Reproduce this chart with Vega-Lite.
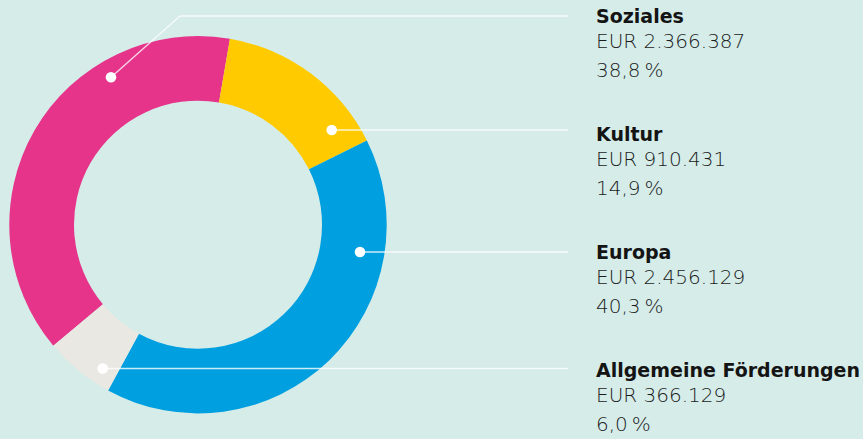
{
  "$schema": "https://vega.github.io/schema/vega-lite/v6.json",
  "width": 863,
  "height": 439,
  "autosize": {"type": "fit", "contains": "padding"},
  "padding": 0,
  "background": "#d5ece9",
  "config": {"view": {"stroke": null}},
  "datasets": {
    "budget": [
      {"name": "Soziales", "eur": 2366387, "eurLabel": "EUR 2.366.387", "pctLabel": "38,8\u2009%"},
      {"name": "Kultur", "eur": 910431, "eurLabel": "EUR 910.431", "pctLabel": "14,9\u2009%"},
      {"name": "Europa", "eur": 2456129, "eurLabel": "EUR 2.456.129", "pctLabel": "40,3\u2009%"},
      {"name": "Allgemeine Förderungen", "eur": 366129, "eurLabel": "EUR 366.129", "pctLabel": "6,0\u2009%"}
    ]
  },
  "layer": [
    {
      "layer": [
        {
          "data": {"name": "budget"},
          "mark": {"type": "arc", "radius": 188.7, "radius2": 124},
          "encoding": {
            "theta": {"field": "eur", "type": "quantitative", "stack": true, "scale": {"range": [-2.2677, 4.01549]}},
            "order": {"field": "name", "type": "nominal", "sort": "descending"},
            "color": {
              "field": "name",
              "type": "nominal",
              "scale": {
                "domain": ["Soziales", "Kultur", "Europa", "Allgemeine Förderungen"],
                "range": ["#e5348a", "#ffcb00", "#009fdf", "#e9e8e3"]
              },
              "legend": null
            },
            "x": {"datum": 198, "type": "quantitative", "scale": {"domain": [0, 863], "nice": false, "zero": false}, "axis": null},
            "y": {"datum": 224.7, "type": "quantitative", "scale": {"domain": [0, 439], "reverse": true, "nice": false, "zero": false}, "axis": null}
          }
        },
        {
          "data": {"values": [{}]},
          "mark": {"type": "rule", "color": "#ffffff", "strokeWidth": 1.3, "opacity": 0.8},
          "encoding": {
            "x": {"datum": 111, "type": "quantitative"}, "x2": {"datum": 180},
            "y": {"datum": 77.3, "type": "quantitative"}, "y2": {"datum": 16}
          }
        },
        {
          "data": {"values": [{}]},
          "mark": {"type": "rule", "color": "#ffffff", "strokeWidth": 1.3, "opacity": 0.8},
          "encoding": {
            "x": {"datum": 180, "type": "quantitative"}, "x2": {"datum": 568.3},
            "y": {"datum": 16, "type": "quantitative"}
          }
        },
        {
          "data": {"values": [{}]},
          "mark": {"type": "rule", "color": "#ffffff", "strokeWidth": 1.3, "opacity": 0.8},
          "encoding": {
            "x": {"datum": 331.7, "type": "quantitative"}, "x2": {"datum": 568.3},
            "y": {"datum": 130, "type": "quantitative"}
          }
        },
        {
          "data": {"values": [{}]},
          "mark": {"type": "rule", "color": "#ffffff", "strokeWidth": 1.3, "opacity": 0.8},
          "encoding": {
            "x": {"datum": 360, "type": "quantitative"}, "x2": {"datum": 568.3},
            "y": {"datum": 252, "type": "quantitative"}
          }
        },
        {
          "data": {"values": [{}]},
          "mark": {"type": "rule", "color": "#ffffff", "strokeWidth": 1.3, "opacity": 0.8},
          "encoding": {
            "x": {"datum": 102.7, "type": "quantitative"}, "x2": {"datum": 568.3},
            "y": {"datum": 368.5, "type": "quantitative"}
          }
        },
        {
          "data": {"values": [{}]},
          "mark": {"type": "circle", "color": "#ffffff", "opacity": 1, "size": 112},
          "encoding": {"x": {"datum": 111, "type": "quantitative"}, "y": {"datum": 77.3, "type": "quantitative"}}
        },
        {
          "data": {"values": [{}]},
          "mark": {"type": "circle", "color": "#ffffff", "opacity": 1, "size": 112},
          "encoding": {"x": {"datum": 331.7, "type": "quantitative"}, "y": {"datum": 130, "type": "quantitative"}}
        },
        {
          "data": {"values": [{}]},
          "mark": {"type": "circle", "color": "#ffffff", "opacity": 1, "size": 112},
          "encoding": {"x": {"datum": 360, "type": "quantitative"}, "y": {"datum": 252, "type": "quantitative"}}
        },
        {
          "data": {"values": [{}]},
          "mark": {"type": "circle", "color": "#ffffff", "opacity": 1, "size": 112},
          "encoding": {"x": {"datum": 102.7, "type": "quantitative"}, "y": {"datum": 368.5, "type": "quantitative"}}
        }
      ]
    },
    {
      "data": {"name": "budget"},
      "layer": [
        {
          "mark": {"type": "text", "align": "left", "baseline": "alphabetic", "font": "DejaVu Sans", "fontSize": 19, "fontWeight": "bold", "color": "#141414"},
          "encoding": {
            "text": {"field": "name"},
            "x": {"datum": 596, "type": "quantitative"},
            "y": {"field": "name", "type": "nominal", "axis": null, "scale": {"type": "point", "domain": ["Soziales", "Kultur", "Europa", "Allgemeine Förderungen"], "range": [23.3, 376.8], "padding": 0}}
          }
        },
        {
          "mark": {"type": "text", "align": "left", "baseline": "alphabetic", "font": "DejaVu Sans", "fontSize": 20, "fontWeight": 300, "color": "#1c1c1c", "dy": 25},
          "encoding": {
            "text": {"field": "eurLabel"},
            "x": {"datum": 596, "type": "quantitative"},
            "y": {"field": "name", "type": "nominal", "axis": null}
          }
        },
        {
          "mark": {"type": "text", "align": "left", "baseline": "alphabetic", "font": "DejaVu Sans", "fontSize": 20, "fontWeight": 300, "color": "#1c1c1c", "dy": 54},
          "encoding": {
            "text": {"field": "pctLabel"},
            "x": {"datum": 596, "type": "quantitative"},
            "y": {"field": "name", "type": "nominal", "axis": null}
          }
        }
      ]
    }
  ],
  "resolve": {"scale": {"y": "independent"}}
}
